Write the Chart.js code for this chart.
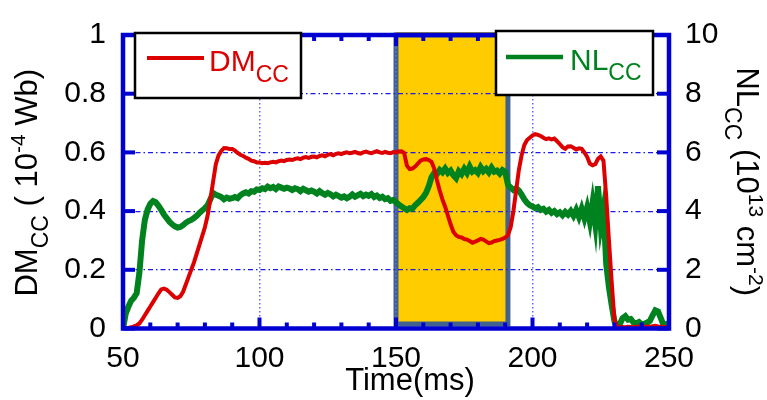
<!DOCTYPE html>
<html>
<head>
<meta charset="utf-8">
<script src="https://cdn.jsdelivr.net/npm/chart.js@4/dist/chart.umd.min.js"></script>
<style>
  html, body { margin: 0; padding: 0; background: #fff; }
  canvas { display: block; }
</style>
</head>
<body>
<canvas id="chart" width="767" height="400"></canvas>
<script>
// time axis (ms), one sample per millisecond
var timeMs = [
     50,  51,  52,  53,  54,  55,  56,  57,  58,  59,
     60,  61,  62,  63,  64,  65,  66,  67,  68,  69,
     70,  71,  72,  73,  74,  75,  76,  77,  78,  79,
     80,  81,  82,  83,  84,  85,  86,  87,  88,  89,
     90,  91,  92,  93,  94,  95,  96,  97,  98,  99,
    100, 101, 102, 103, 104, 105, 106, 107, 108, 109,
    110, 111, 112, 113, 114, 115, 116, 117, 118, 119,
    120, 121, 122, 123, 124, 125, 126, 127, 128, 129,
    130, 131, 132, 133, 134, 135, 136, 137, 138, 139,
    140, 141, 142, 143, 144, 145, 146, 147, 148, 149,
    150, 151, 152, 153, 154, 155, 156, 157, 158, 159,
    160, 161, 162, 163, 164, 165, 166, 167, 168, 169,
    170, 171, 172, 173, 174, 175, 176, 177, 178, 179,
    180, 181, 182, 183, 184, 185, 186, 187, 188, 189,
    190, 191, 192, 193, 194, 195, 196, 197, 198, 199,
    200, 201, 202, 203, 204, 205, 206, 207, 208, 209,
    210, 211, 212, 213, 214, 215, 216, 217, 218, 219,
    220, 221, 222, 223, 224, 225, 226, 227, 228, 229,
    230, 231, 232, 233, 234, 235, 236, 237, 238, 239,
    240, 241, 242, 243, 244, 245, 246, 247, 248, 249,
    250
];

// DM_CC (1e-4 Wb)
var dmValues = [
    0.000, 0.001, 0.002, 0.004, 0.007, 0.011, 0.017, 0.030, 0.045, 0.060,
    0.075, 0.090, 0.105, 0.120, 0.133, 0.136, 0.132, 0.124, 0.115, 0.106,
    0.104, 0.110, 0.125, 0.150, 0.175, 0.200, 0.225, 0.255, 0.285, 0.315,
    0.345, 0.385, 0.440, 0.500, 0.560, 0.590, 0.605, 0.615, 0.614, 0.612,
    0.612, 0.606, 0.598, 0.592, 0.588, 0.582, 0.578, 0.572, 0.570, 0.566,
    0.566, 0.563, 0.565, 0.563, 0.566, 0.568, 0.566, 0.570, 0.572, 0.570,
    0.574, 0.576, 0.574, 0.578, 0.580, 0.577, 0.582, 0.584, 0.581, 0.585,
    0.586, 0.583, 0.588, 0.590, 0.587, 0.592, 0.594, 0.590, 0.595, 0.597,
    0.594, 0.598, 0.600, 0.597, 0.599, 0.602, 0.598, 0.596, 0.600, 0.603,
    0.599, 0.597, 0.601, 0.604, 0.600, 0.598, 0.602, 0.599, 0.597, 0.601,
    0.600, 0.603, 0.604, 0.598, 0.555, 0.543, 0.545, 0.552, 0.562, 0.572,
    0.576, 0.577, 0.574, 0.568, 0.545, 0.505, 0.470, 0.440, 0.415, 0.385,
    0.355, 0.330, 0.318, 0.312, 0.310, 0.305, 0.303, 0.298, 0.292, 0.296,
    0.300, 0.305, 0.303, 0.297, 0.291, 0.293, 0.298, 0.300, 0.302, 0.305,
    0.310, 0.318, 0.345, 0.400, 0.470, 0.540, 0.590, 0.625, 0.642, 0.650,
    0.658, 0.662, 0.660, 0.656, 0.650, 0.645, 0.648, 0.644, 0.647, 0.638,
    0.628, 0.618, 0.612, 0.620, 0.621, 0.616, 0.610, 0.614, 0.612, 0.600,
    0.585, 0.562, 0.556, 0.560, 0.578, 0.586, 0.572, 0.450, 0.300, 0.160,
    0.030, 0.006, 0.004, 0.005, 0.004, 0.006, 0.005, 0.004, 0.006, 0.007,
    0.006, 0.005, 0.007, 0.006, 0.008, 0.009, 0.007, 0.006, 0.005, 0.004,
    0.003
];

// NL_CC (1e13 cm^-2)
var nlValues = [
    0.00, 0.50, 0.75, 0.95, 1.05, 1.20, 1.90, 3.00, 3.70, 4.05,
    4.25, 4.34, 4.30, 4.18, 4.04, 3.88, 3.76, 3.64, 3.55, 3.48,
    3.44, 3.46, 3.52, 3.60, 3.66, 3.70, 3.76, 3.84, 3.94, 4.02,
    4.10, 4.20, 4.40, 4.62, 4.56, 4.52, 4.48, 4.40, 4.46, 4.42,
    4.44, 4.48, 4.44, 4.54, 4.60, 4.64, 4.60, 4.68, 4.66, 4.74,
    4.72, 4.78, 4.75, 4.83, 4.78, 4.82, 4.75, 4.84, 4.80, 4.76,
    4.80, 4.77, 4.72, 4.78, 4.75, 4.68, 4.76, 4.71, 4.66, 4.70,
    4.66, 4.60, 4.68, 4.61, 4.56, 4.62, 4.57, 4.50, 4.56, 4.51,
    4.46, 4.50, 4.44, 4.49, 4.57, 4.49, 4.54, 4.59, 4.51, 4.56,
    4.52, 4.58, 4.48, 4.53, 4.45, 4.49, 4.41, 4.44, 4.35, 4.38,
    4.30, 4.22, 4.16, 4.10, 4.04, 4.10, 4.08, 4.20, 4.28, 4.38,
    4.48, 4.62, 4.85, 5.15, 5.30, 5.26, 5.40, 5.32, 5.45, 5.30,
    5.38, 5.22, 5.12, 5.36, 5.26, 5.44, 5.30, 5.52, 5.34, 5.40,
    5.30, 5.50, 5.36, 5.44, 5.32, 5.48, 5.34, 5.38, 5.28, 5.40,
    5.34, 4.90, 4.80, 4.72, 4.78, 4.70, 4.56, 4.40, 4.28, 4.20,
    4.16, 4.10, 4.14, 4.04, 4.08, 3.98, 4.04, 3.94, 4.00, 3.90,
    3.96, 3.86, 3.97, 3.88, 4.00, 3.84, 4.04, 3.80, 4.08, 3.76,
    4.12, 3.64, 4.28, 3.56, 4.85, 3.52, 4.10, 2.20, 1.40, 0.80,
    0.25, 0.05, 0.15, 0.35, 0.42, 0.30, 0.32, 0.20, 0.18, 0.22,
    0.14, 0.16, 0.20, 0.26, 0.45, 0.62, 0.58, 0.35, 0.12, 0.15,
    0.08
];

// highlighted time window (ms)
var shadeRange = [150, 191];

var FONT = '"Liberation Sans", Arial, Helvetica, sans-serif';
var BLUE = '#0000d0';
var RED = '#dd0000';
var GREEN = '#00821e';

Chart.defaults.font.family = FONT;

function toPoints(xs, ys) {
    var pts = [];
    for (var i = 0; i < xs.length; i++) pts.push({ x: xs[i], y: ys[i] });
    return pts;
}

// draws a run of [text, size, dy] pieces, for sub/superscripts
function drawParts(ctx, parts, x, y, center) {
    var total = 0;
    parts.forEach(function (p) {
        ctx.font = p[1] + 'px ' + FONT;
        total += ctx.measureText(p[0]).width;
    });
    var cx = center ? x - total / 2 : x;
    ctx.textAlign = 'left';
    ctx.textBaseline = 'alphabetic';
    parts.forEach(function (p) {
        ctx.font = p[1] + 'px ' + FONT;
        ctx.fillText(p[0], cx, y + p[2]);
        cx += ctx.measureText(p[0]).width;
    });
}

function line(ctx, x0, y0, x1, y1) {
    ctx.beginPath();
    ctx.moveTo(x0, y0);
    ctx.lineTo(x1, y1);
    ctx.stroke();
}

// plain tick text: 0, 0.2, ... 1
function plainTick(v) {
    return String(Math.round(v * 10) / 10);
}

var decorPlugin = {
    id: 'decor',
    beforeDraw: function (chart) {
        var ctx = chart.ctx, a = chart.chartArea, xs = chart.scales.x;
        ctx.save();
        ctx.fillStyle = '#fff';
        ctx.fillRect(0, 0, chart.width, chart.height);
        var x0 = xs.getPixelForValue(shadeRange[0]);
        var x1 = xs.getPixelForValue(shadeRange[1]);
        var yb = a.bottom - 4.5;
        ctx.fillStyle = '#ffcc00';
        ctx.fillRect(x0, a.top - 3, x1 - x0, yb - a.top + 3);
        ctx.strokeStyle = '#41618f';
        ctx.lineWidth = 5;
        ctx.strokeRect(x0, a.top, x1 - x0, yb - a.top);
        ctx.restore();
    },
    afterDatasetsDraw: function (chart) {
        var ctx = chart.ctx, a = chart.chartArea;
        var xs = chart.scales.x, yl = chart.scales.y, yr = chart.scales.y2;
        ctx.save();
        ctx.strokeStyle = BLUE;
        ctx.lineCap = 'butt';
        ctx.lineWidth = 4;
        yl.ticks.forEach(function (t) {
            var p = yl.getPixelForValue(t.value);
            line(ctx, a.left, p, a.left + 12, p);
        });
        yr.ticks.forEach(function (t) {
            var p = yr.getPixelForValue(t.value);
            line(ctx, a.right, p, a.right - 12, p);
        });
        xs.ticks.forEach(function (t) {
            var p = xs.getPixelForValue(t.value);
            line(ctx, p, a.bottom, p, a.bottom - 11);
            line(ctx, p, a.top, p, a.top + 11);
        });
        for (var v = xs.min + 10; v < xs.max; v += 10) {
            if (v % 50 === 0) continue;
            var p = xs.getPixelForValue(v);
            line(ctx, p, a.bottom, p, a.bottom - 6);
            line(ctx, p, a.top, p, a.top + 6);
        }
        ctx.lineWidth = 4.5;
        ctx.strokeRect(a.left, a.top, a.right - a.left, a.bottom - a.top);
        ctx.restore();
    },
    afterDraw: function (chart) {
        var ctx = chart.ctx, a = chart.chartArea;
        ctx.save();

        // legend boxes
        ctx.fillStyle = '#fff';
        ctx.strokeStyle = '#000';
        ctx.lineWidth = 2.5;
        ctx.fillRect(135, 33, 166, 65);
        ctx.strokeRect(135, 33, 166, 65);
        ctx.fillRect(496, 31, 157, 64);
        ctx.strokeRect(496, 31, 157, 64);

        ctx.lineWidth = 4;
        ctx.strokeStyle = RED;
        line(ctx, 147, 58, 204, 58);
        ctx.strokeStyle = GREEN;
        ctx.lineWidth = 4.5;
        line(ctx, 506, 57, 563, 57);

        ctx.fillStyle = RED;
        drawParts(ctx, [['DM', 30, 0], ['CC', 23, 11]], 209, 71, false);
        ctx.fillStyle = GREEN;
        drawParts(ctx, [['NL', 30, 0], ['CC', 23, 10]], 570, 70, false);

        // axis titles
        ctx.fillStyle = '#000';
        ctx.save();
        ctx.translate(37, (a.top + a.bottom) / 2 + 1);
        ctx.rotate(-Math.PI / 2);
        drawParts(ctx, [['DM', 31, 0], ['CC', 23, 11], [' ( 10', 31, 0], ['-4', 21, -12], [' Wb)', 31, 0]], 0, 0, true);
        ctx.restore();

        ctx.save();
        ctx.translate(737, (a.top + a.bottom) / 2);
        ctx.rotate(Math.PI / 2);
        drawParts(ctx, [['NL', 31, 0], ['CC', 23, 12], [' (10', 31, 0], ['13', 21, -12], [' cm', 31, 0], ['-2', 21, -12], [')', 31, 0]], 0, 0, true);
        ctx.restore();

        drawParts(ctx, [['Time(ms)', 31, 0]], 410, 390, true);
        ctx.restore();
    }
};

new Chart(document.getElementById('chart'), {
    type: 'line',
    data: {
        datasets: [{
            label: 'DM',
            data: toPoints(timeMs, dmValues),
            yAxisID: 'y',
            borderColor: RED,
            borderWidth: 4,
            pointRadius: 0,
            tension: 0,
            fill: false
        }, {
            label: 'NL',
            data: toPoints(timeMs, nlValues),
            yAxisID: 'y2',
            borderColor: GREEN,
            borderWidth: 6,
            pointRadius: 0,
            tension: 0,
            fill: false
        }]
    },
    options: {
        responsive: false,
        animation: false,
        devicePixelRatio: 1,
        layout: { padding: { top: 22.5, left: 0, right: 0, bottom: 0 } },
        plugins: {
            legend: { display: false },
            tooltip: { enabled: false }
        },
        scales: {
            x: {
                type: 'linear',
                min: 50,
                max: 250,
                afterFit: function (s) { s.height = 71.5; },
                ticks: { stepSize: 50, color: '#000', font: { size: 30 }, padding: 12, maxRotation: 0 },
                grid: {
                    drawTicks: false,
                    lineWidth: 1.5,
                    color: function (c) {
                        var v = c.tick ? c.tick.value : null;
                        return (v === 50 || v === 250) ? 'rgba(0,0,0,0)' : '#6b6bef';
                    }
                },
                border: { display: false, dash: [1.5, 2.5] }
            },
            y: {
                position: 'left',
                min: 0,
                max: 1,
                afterFit: function (s) { s.width = 123; },
                ticks: { stepSize: 0.2, color: '#000', font: { size: 30 }, padding: 17, callback: plainTick },
                grid: {
                    drawTicks: false,
                    lineWidth: 1.2,
                    color: function (c) {
                        var v = c.tick ? c.tick.value : null;
                        return (v === 0 || v === 1) ? 'rgba(0,0,0,0)' : '#1a1ae6';
                    }
                },
                border: { display: false, dash: [5, 3, 1.5, 3] }
            },
            y2: {
                position: 'right',
                min: 0,
                max: 10,
                afterFit: function (s) { s.width = 98; },
                ticks: { stepSize: 2, color: '#000', font: { size: 30 }, padding: 16 },
                grid: { display: false, drawTicks: false },
                border: { display: false }
            }
        }
    },
    plugins: [decorPlugin]
});
</script>
</body>
</html>
